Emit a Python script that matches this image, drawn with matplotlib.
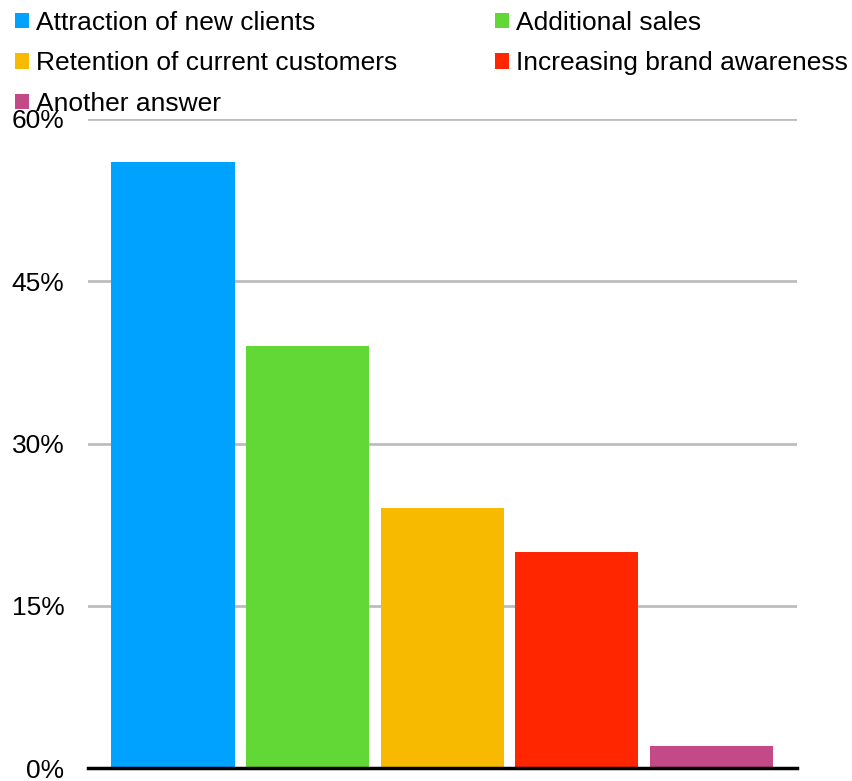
import matplotlib.pyplot as plt
from matplotlib.patches import Patch

plt.rcParams['font.family'] = ['Liberation Sans', 'DejaVu Sans']

# Survey answers and their shares (%)
answers = ["Attraction of new clients", "Additional sales",
           "Retention of current customers", "Increasing brand awareness",
           "Another answer"]
shares = [56, 39, 24, 20, 2]
colors = ["#00a2ff", "#61d836", "#f8ba00", "#ff2600", "#c44a87"]
y_ticks = [0, 15, 30, 45, 60]
y_tick_labels = ["0%", "15%", "30%", "45%", "60%"]

fig = plt.figure(figsize=(8.52, 7.81), dpi=100)
ax = fig.add_axes([88 / 852, 1 - 768 / 781, (797 - 88) / 852, (768 - 119) / 781])

x = list(range(len(shares)))
ax.bar(x, shares, width=0.915, color=colors, zorder=3)

ax.set_xlim(-0.632, 4.636)
ax.set_ylim(0, 60)
ax.set_yticks(y_ticks)
ax.set_yticklabels(y_tick_labels, fontsize=19)
ax.set_xticks([])
ax.tick_params(axis='y', length=0, pad=17)
ax.grid(axis='y', color='#bdbdbd', linewidth=2, zorder=0)
for side in ['top', 'right', 'left']:
    ax.spines[side].set_visible(False)
ax.spines['bottom'].set_linewidth(2.5)
ax.spines['bottom'].set_zorder(4)

# legend fills row by row: reorder so matplotlib's column filling matches
order = [0, 2, 4, 1, 3]
handles = [Patch(facecolor=colors[i], edgecolor='none') for i in order]
labels = [answers[i] for i in order]
fig.legend(handles, labels, ncol=2, loc='upper left',
           bbox_to_anchor=(15 / 852, 1 - 11 / 781), frameon=False,
           fontsize=19, handlelength=0.53, handleheight=0.53,
           handletextpad=0.25, labelspacing=0.62, columnspacing=3.72,
           borderaxespad=0, borderpad=0)

fig.savefig("out.png", dpi=100)
